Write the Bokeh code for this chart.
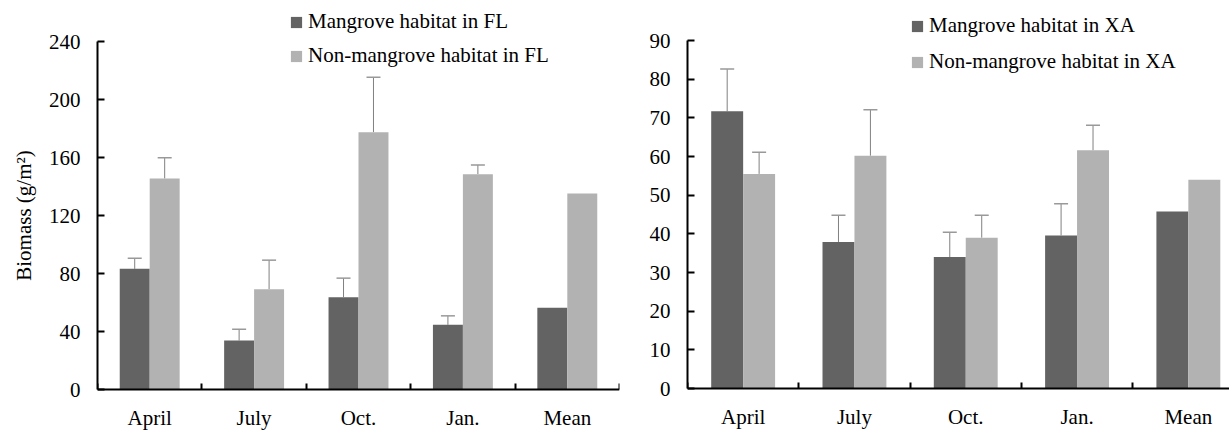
from bokeh.plotting import figure
from bokeh.models import (ColumnDataSource, Range1d, FixedTicker, Whisker, TeeHead,
                          Legend, LegendItem)
from bokeh.transform import dodge
from bokeh.layouts import row
from bokeh.embed import file_html
from bokeh.resources import INLINE

categories = ["April", "July", "Oct.", "Jan.", "Mean"]

fl_mangrove = [83.2, 33.8, 63.7, 44.6, 56.3]
fl_mangrove_upper = [90.6, 41.6, 76.8, 50.8, None]
fl_non = [145.5, 69.2, 177.5, 148.5, 135.2]
fl_non_upper = [159.8, 89.2, 215.4, 154.9, None]

xa_mangrove = [71.7, 37.9, 34.0, 39.6, 45.8]
xa_mangrove_upper = [82.6, 44.8, 40.4, 47.8, None]
xa_non = [55.5, 60.2, 39.0, 61.6, 54.0]
xa_non_upper = [61.1, 72.1, 44.8, 68.1, None]

fl_ticks = [0, 40, 80, 120, 160, 200, 240]
xa_ticks = [0, 10, 20, 30, 40, 50, 60, 70, 80, 90]

DARK = "#636363"
LIGHT = "#b2b2b2"
FONT = "Liberation Serif"
FS = "21px"
BW = 0.287
H = 430


def panel(width, border_left, border_right, x_end, y_range, ticks, mang, mang_up,
          non, non_up, labels, legend_loc, spacing, ylabel=None):
    centers = [i + 0.5 for i in range(len(categories))]
    src = ColumnDataSource(dict(xc=centers, m=mang, n=non))
    p = figure(width=width, height=H, x_range=Range1d(0, x_end), y_range=Range1d(*y_range),
               output_backend="svg", toolbar_location=None, tools="",
               min_border_left=border_left, min_border_right=border_right,
               min_border_top=0, min_border_bottom=0)
    p.outline_line_color = None
    p.grid.visible = False
    p.background_fill_color = "white"

    r1 = p.vbar(x=dodge("xc", -BW / 2, range=p.x_range), top="m", width=BW, source=src,
                fill_color=DARK, line_color=None)
    r2 = p.vbar(x=dodge("xc", BW / 2, range=p.x_range), top="n", width=BW, source=src,
                fill_color=LIGHT, line_color=None)

    idx = [i for i, u in enumerate(mang_up) if u is not None]
    wsrc = ColumnDataSource(dict(
        xm=[centers[i] - BW / 2 for i in idx], m=[mang[i] for i in idx], mu=[mang_up[i] for i in idx],
        xn=[centers[i] + BW / 2 for i in idx], n=[non[i] for i in idx], nu=[non_up[i] for i in idx]))
    for base, lo, up in (("xm", "m", "mu"), ("xn", "n", "nu")):
        w = Whisker(source=wsrc, base=base, lower=lo, upper=up, dimension="height",
                    line_color="#808080", line_width=1,
                    upper_head=TeeHead(size=14, line_color="#999999", line_width=1.5),
                    lower_head=None)
        p.add_layout(w)

    # x axis (category axis, ticks between categories)
    xa = p.xaxis[0]
    xa.fixed_location = 0
    xa.ticker = FixedTicker(ticks=centers, minor_ticks=list(range(len(categories) + 1)))
    xa.major_label_overrides = {c: lab for c, lab in zip(centers, labels)}
    xa.major_tick_line_color = None
    xa.minor_tick_in = 6
    xa.minor_tick_out = 0
    xa.minor_tick_line_width = 2
    xa.minor_tick_line_color = "black"
    xa.axis_line_width = 2
    xa.axis_line_color = "black"
    xa.major_label_standoff = 10
    xa.major_label_text_font = FONT
    xa.major_label_text_font_size = FS
    xa.major_label_text_color = "black"

    ya = p.yaxis[0]
    ya.bounds = (ticks[0], ticks[-1])
    ya.ticker = FixedTicker(ticks=ticks, minor_ticks=[])
    ya.major_tick_in = 7
    ya.major_tick_out = 0
    ya.major_tick_line_width = 2
    ya.major_tick_line_color = "black"
    ya.minor_tick_line_color = None
    ya.axis_line_width = 2
    ya.axis_line_color = "black"
    ya.major_label_standoff = 17
    ya.major_label_text_font = FONT
    ya.major_label_text_font_size = FS
    ya.major_label_text_color = "black"
    if ylabel:
        ya.axis_label = ylabel
        ya.axis_label_text_font = FONT
        ya.axis_label_text_font_size = FS
        ya.axis_label_text_font_style = "normal"
        ya.axis_label_text_color = "black"
        ya.axis_label_standoff = 10

    leg = Legend(items=[LegendItem(label=legend_loc[2][0], renderers=[r1]),
                        LegendItem(label=legend_loc[2][1], renderers=[r2])],
                 location=(legend_loc[0], legend_loc[1]),
                 label_text_font=FONT, label_text_font_size=FS, label_text_color="black",
                 glyph_width=14, glyph_height=14, label_standoff=5, spacing=spacing,
                 padding=0, margin=0, border_line_color=None, background_fill_alpha=0,
                 label_height=20)
    p.add_layout(leg)
    return p


# left: frame x 97..619, 0 at y=389, 240 at y=41, frame y 0..430
u1 = (389 - 41) / 240.0
p1 = panel(630, 97, 11, 5, (-(H - 389) / u1, 389 / u1), fl_ticks,
           fl_mangrove, fl_mangrove_upper, fl_non, fl_non_upper, categories,
           (192, H - 68, ["Mangrove habitat in FL", "Non-mangrove habitat in FL"]), 9,
           ylabel="Biomass (g/m\u00b2)")

# right: frame x 687..1229, 0 at y=388, 90 at y=40
u2 = (388 - 40) / 90.0
p2 = panel(599, 57, 0, 542 / 111.3, (-(H - 388) / u2, 388 / u2), xa_ticks,
           xa_mangrove, xa_mangrove_upper, xa_non, xa_non_upper, categories,
           (223, H - 74, ["Mangrove habitat in XA", "Non-mangrove habitat in XA"]), 11)

layout = row(p1, p2, spacing=0)
open("out.html", "w").write(file_html(layout, INLINE))
